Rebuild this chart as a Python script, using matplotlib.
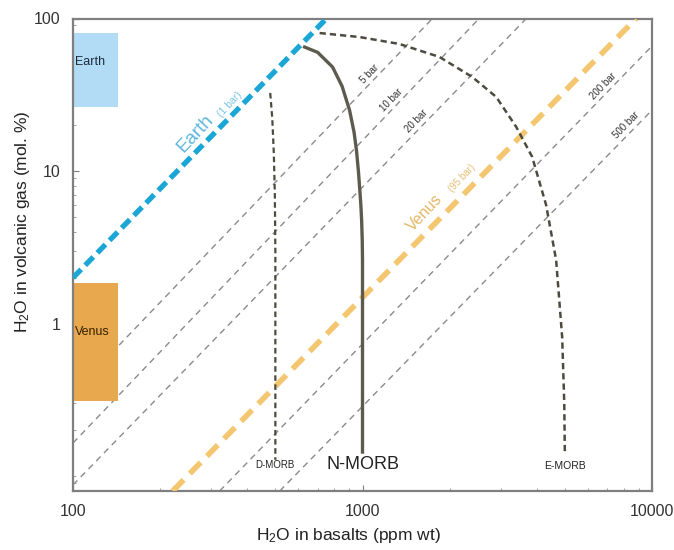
import matplotlib
matplotlib.use("Agg")
import matplotlib.pyplot as plt
import numpy as np
from matplotlib.ticker import FixedLocator, LogLocator, NullFormatter, FixedFormatter

plt.rcParams['font.family'] = ['Liberation Sans', 'DejaVu Sans']
plt.rcParams['mathtext.fontset'] = 'custom'
plt.rcParams['mathtext.rm'] = 'Liberation Sans'
plt.rcParams['mathtext.it'] = 'Liberation Sans:italic'
plt.rcParams['mathtext.bf'] = 'Liberation Sans:bold'

# ---------------- data ----------------
# isobars (gray dashed): start/end points
isobar_labels = ["5 bar", "10 bar", "20 bar", "200 bar", "500 bar"]
isobar_x_start = [100, 100, 100, 321, 518]
isobar_y_start = [0.35, 0.165, 0.0877, 0.08, 0.08]
isobar_x_end = [1744, 2529, 3681, 10000, 10000]
isobar_y_end = [100, 100, 100, 66, 25.1]
isobar_label_x = [1099, 1309, 1596, 7050, 8530]

# Earth (1 bar) and Venus (95 bar) reference lines
earth_line_x = [100, 751]
earth_line_y = [2.0, 100]
venus_line_x = [221, 8810]
venus_line_y = [0.08, 100]

# MORB degassing curves
nmorb_x = [631, 700, 788, 850, 902, 935, 953, 968, 977, 987, 993, 998, 1000, 1000]
nmorb_y = [65, 60, 48.1, 36, 25.1, 18, 13.7, 10, 7.87, 6, 4.78, 3.5, 2.61, 0.144]
dmorb_x = [480, 488, 494, 498, 500, 500]
dmorb_y = [32.5, 22, 13, 7, 3, 0.128]
emorb_x = [711, 977, 1341, 1843, 2393, 2897, 3395, 3855, 4307, 4665, 4894, 4977, 5000]
emorb_y = [80.3, 75.6, 68.1, 56.0, 41.4, 30.6, 19.5, 12.4, 6.0, 2.61, 0.817, 0.3, 0.138]

# planet boxes: x range, y range
earth_box_x = [100, 143]
earth_box_y = [26.3, 80.3]
venus_box_x = [100, 143]
venus_box_y = [0.31, 1.85]

x_ticks = [100, 1000, 10000]
x_ticklabels = ["100", "1000", "10000"]
y_ticks = [1, 10, 100]
y_ticklabels = ["1", "10", "100"]

# ---------------- figure ----------------
fig = plt.figure(figsize=(6.74, 5.5), dpi=100)
ax = fig.add_axes([73/674, 59/550, 579/674, 472.5/550])
ax.set_xscale('log')
ax.set_yscale('log')
ax.set_xlim(100, 10000)
ax.set_ylim(0.08, 100)

gray = '#8a8a8a'
for i, lab in enumerate(isobar_labels):
    xs = [isobar_x_start[i], isobar_x_end[i]]
    ys = [isobar_y_start[i], isobar_y_end[i]]
    ln, = ax.plot(xs, ys, color=gray, lw=1.0, zorder=1)
    ln.set_dashes((4.5, 3.5))
    lx = isobar_label_x[i]
    ly = 10 ** np.interp(np.log10(lx), np.log10(xs), np.log10(ys))
    ax.annotate(lab, (lx, ly), xytext=(-3.8, 3.8), textcoords='offset points',
                rotation=46, ha='center', va='center', rotation_mode='anchor',
                fontsize=7, color='#333333', zorder=5)

# planet boxes
ax.fill_between(earth_box_x, earth_box_y[0], earth_box_y[1], color='#b2dcf6', lw=0, zorder=2)
ax.fill_between(venus_box_x, venus_box_y[0], venus_box_y[1], color='#e8a94e', lw=0, zorder=2)
ax.text(101.5, 51.9, "Earth", fontsize=9, color='#1a2a3a', va='center', ha='left', zorder=6)
ax.text(101.5, 0.88, "Venus", fontsize=9, color='#3a2000', va='center', ha='left', zorder=6)

# Earth / Venus isobar lines
el, = ax.plot(earth_line_x, earth_line_y, color='#1ba6d6', lw=3.8, zorder=4,
              solid_capstyle='butt', dash_capstyle='butt')
el.set_dashes((2.2, 1.1))
vl, = ax.plot(venus_line_x, venus_line_y, color='#f4c670', lw=4.0, zorder=3,
              dash_capstyle='butt')
vl.set_dashes((2.8, 1.6))

ax.text(266, 17.5, "Earth", fontsize=13.5, color='#5cb6dd', rotation=47,
        ha='center', va='center', rotation_mode='anchor', zorder=6)
ax.text(348, 27.5, "(1 bar)", fontsize=7.5, color='#7cc3e2', rotation=47,
        ha='center', va='center', rotation_mode='anchor', zorder=6)
ax.text(1636, 5.31, "Venus", fontsize=11.5, color='#e3b866', rotation=47,
        ha='center', va='center', rotation_mode='anchor', zorder=6)
ax.text(2213, 9.01, "(95 bar)", fontsize=7, color='#e6bf77', rotation=47,
        ha='center', va='center', rotation_mode='anchor', zorder=6)

# MORB curves
ax.plot(nmorb_x, nmorb_y, color='#5c5b4e', lw=2.4, zorder=5, solid_joinstyle='round')
dl, = ax.plot(dmorb_x, dmorb_y, color='#4d4a40', lw=1.6, zorder=5)
dl.set_dashes((2.5, 1.6))
eml, = ax.plot(emorb_x, emorb_y, color='#4d4a40', lw=1.8, zorder=5)
eml.set_dashes((2.5, 1.6))

ax.text(500, 0.118, "D-MORB", fontsize=7, color='#222222', ha='center', va='center')
ax.text(1000, 0.12, "N-MORB", fontsize=13, color='#222222', ha='center', va='center')
ax.text(5000, 0.116, "E-MORB", fontsize=7.5, color='#222222', ha='center', va='center')

# axes styling
for s in ax.spines.values():
    s.set_color('#7f7f7f')
    s.set_linewidth(1.6)
ax.xaxis.set_major_locator(FixedLocator(x_ticks))
ax.xaxis.set_major_formatter(FixedFormatter(x_ticklabels))
ax.yaxis.set_major_locator(FixedLocator(y_ticks))
ax.yaxis.set_major_formatter(FixedFormatter(y_ticklabels))
ax.xaxis.set_minor_locator(LogLocator(base=10, subs=np.arange(2, 10), numticks=20))
ax.yaxis.set_minor_locator(LogLocator(base=10, subs=np.arange(1, 10), numticks=20))
ax.xaxis.set_minor_formatter(NullFormatter())
ax.yaxis.set_minor_formatter(NullFormatter())
ax.tick_params(which='major', direction='in', length=4, width=0.8, color='#7f7f7f',
               labelsize=11.5, labelcolor='#333333', pad=9)
ax.tick_params(which='minor', direction='in', length=2.5, width=0.7, color='#9f9f9f')

ax.set_xlabel("H$_2$O in basalts (ppm wt)", fontsize=12.5, color='#222222')
ax.set_ylabel("H$_2$O in volcanic gas (mol. %)", fontsize=12.5, color='#222222')
ax.xaxis.set_label_coords(0.475, -0.074)
ax.yaxis.set_label_coords(-0.07, 0.57)

fig.savefig("out.png", dpi=100, facecolor='white')
